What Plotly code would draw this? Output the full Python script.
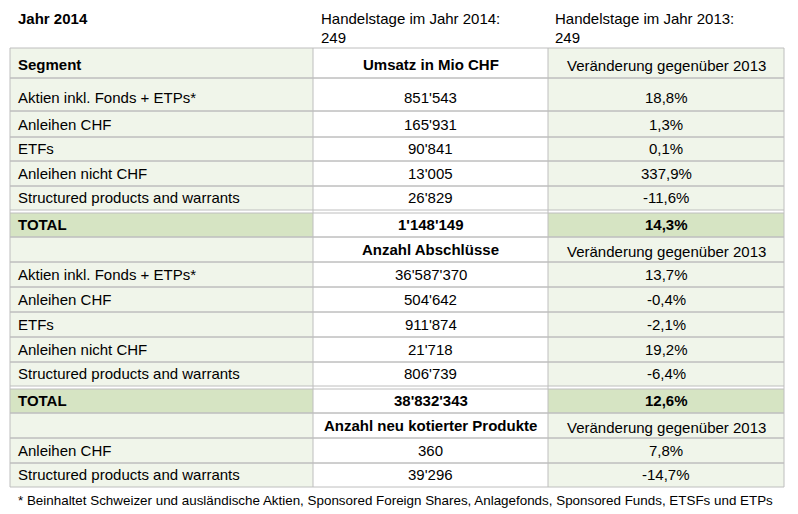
import plotly.graph_objects as go

# ---------------- data ----------------
title_left = "Jahr 2014"
title_mid = ["Handelstage im Jahr 2014:", "249"]
title_right = ["Handelstage im Jahr 2013:", "249"]

seg_header = "Segment"
sec1_header = "Umsatz in Mio CHF"
chg_header = "Veränderung gegenüber 2013"
sec1_segments = ["Aktien inkl. Fonds + ETPs*", "Anleihen CHF", "ETFs", "Anleihen nicht CHF",
                 "Structured products and warrants"]
sec1_values = ["851'543", "165'931", "90'841", "13'005", "26'829"]
sec1_change = ["18,8%", "1,3%", "0,1%", "337,9%", "-11,6%"]
sec1_total = ["TOTAL", "1'148'149", "14,3%"]

sec2_header = "Anzahl Abschlüsse"
sec2_segments = ["Aktien inkl. Fonds + ETPs*", "Anleihen CHF", "ETFs", "Anleihen nicht CHF",
                 "Structured products and warrants"]
sec2_values = ["36'587'370", "504'642", "911'874", "21'718", "806'739"]
sec2_change = ["13,7%", "-0,4%", "-2,1%", "19,2%", "-6,4%"]
sec2_total = ["TOTAL", "38'832'343", "12,6%"]

sec3_header = "Anzahl neu kotierter Produkte"
sec3_segments = ["Anleihen CHF", "Structured products and warrants"]
sec3_values = ["360", "39'296"]
sec3_change = ["7,8%", "-14,7%"]

footnote = ("* Beinhaltet Schweizer und ausländische Aktien, Sponsored Foreign Shares, "
            "Anlagefonds, Sponsored Funds, ETSFs und ETPs")

# ---------------- styles / layout ----------------
W, H = 798, 514
OFF = 8  # page body margin
FONT = "Liberation Sans, Arial, Helvetica, sans-serif"
FS = 15
LIGHT = "#F0F5EA"
DARK = "#D6E4C3"
WHITE = "#FFFFFF"
LINE = "#BEBEBE"
col_edges = [10, 313, 548, 784]

# rows: (kind, left, mid, right)
rows = []
rows.append(("head", seg_header, sec1_header, chg_header))
for s, v, c in zip(sec1_segments, sec1_values, sec1_change):
    rows.append(("data", s, v, c))
rows.append(("total",) + tuple(sec1_total))
rows.append(("head", "", sec2_header, chg_header))
for s, v, c in zip(sec2_segments, sec2_values, sec2_change):
    rows.append(("data", s, v, c))
rows.append(("total",) + tuple(sec2_total))
rows.append(("head", "", sec3_header, chg_header))
for s, v, c in zip(sec3_segments, sec3_values, sec3_change):
    rows.append(("data", s, v, c))

# row top/bottom edges (pixels)
row_bounds = [(48, 78), (78, 111), (111, 137), (137, 161), (161, 186), (186, 210),
              (213, 237), (237, 262), (262, 287), (287, 312), (312, 337), (337, 362),
              (362, 386), (389, 413), (413, 438), (438, 463), (463, 487)]

fig = go.Figure()
fig.add_trace(go.Scatter(x=[OFF, W], y=[OFF, H], mode="markers", marker=dict(opacity=0),
                         hoverinfo="skip", showlegend=False))

shapes = []
annots = []


def txt(x, y, s, bold=False, anchor="left", size=FS, family=FONT):
    if not s:
        return
    annots.append(dict(x=x, y=y, xref="x", yref="y", text=("<b>%s</b>" % s) if bold else s,
                       showarrow=False, xanchor=anchor, yanchor="middle",
                       font=dict(family=family, size=size, color="#000000")))


# title row
txt(16, 18, title_left, bold=True)
txt(319, 18, title_mid[0])
txt(319, 37, title_mid[1])
txt(553, 18, title_right[0])
txt(553, 37, title_right[1])

for (kind, a, b, c), (top, bot) in zip(rows, row_bounds):
    if kind == "total":
        fills = [DARK, WHITE, DARK]
    else:
        fills = [LIGHT, WHITE, LIGHT]
    for i in range(3):
        shapes.append(dict(type="rect", xref="x", yref="y", x0=col_edges[i], x1=col_edges[i + 1],
                           y0=top, y1=bot, fillcolor=fills[i], line=dict(width=0), layer="below"))
    ty = bot - 12.5 if bot - top < 30 else bot - 14
    bold_left = kind in ("head", "total")
    txt(16, ty, a, bold=bold_left)
    cx_mid = (col_edges[1] + col_edges[2]) / 2
    cx_right = (col_edges[2] + col_edges[3]) / 2
    txt(cx_mid, ty, b, bold=(kind in ("head", "total")), anchor="center")
    txt(cx_right, ty + (1.5 if kind == "head" else 0), c, bold=(kind == "total"), anchor="center")
    # horizontal borders
    for yy in (top, bot):
        shapes.append(dict(type="line", xref="x", yref="y", x0=col_edges[0], x1=col_edges[3],
                           y0=yy, y1=yy, line=dict(color=LINE, width=1)))

# vertical borders
for xx in col_edges:
    shapes.append(dict(type="line", xref="x", yref="y", x0=xx, x1=xx,
                       y0=row_bounds[0][0], y1=row_bounds[-1][1], line=dict(color=LINE, width=1)))

txt(16, 500, footnote, size=13.4)

fig.update_layout(
    width=W - OFF, height=H - OFF, margin=dict(l=0, r=0, t=0, b=0),
    paper_bgcolor="white", plot_bgcolor="white",
    xaxis=dict(range=[OFF, W], visible=False, fixedrange=True),
    yaxis=dict(range=[H, OFF], visible=False, fixedrange=True),
    shapes=shapes, annotations=annots, showlegend=False,
)
fig.write_html("out.html", config={"displayModeBar": False})
